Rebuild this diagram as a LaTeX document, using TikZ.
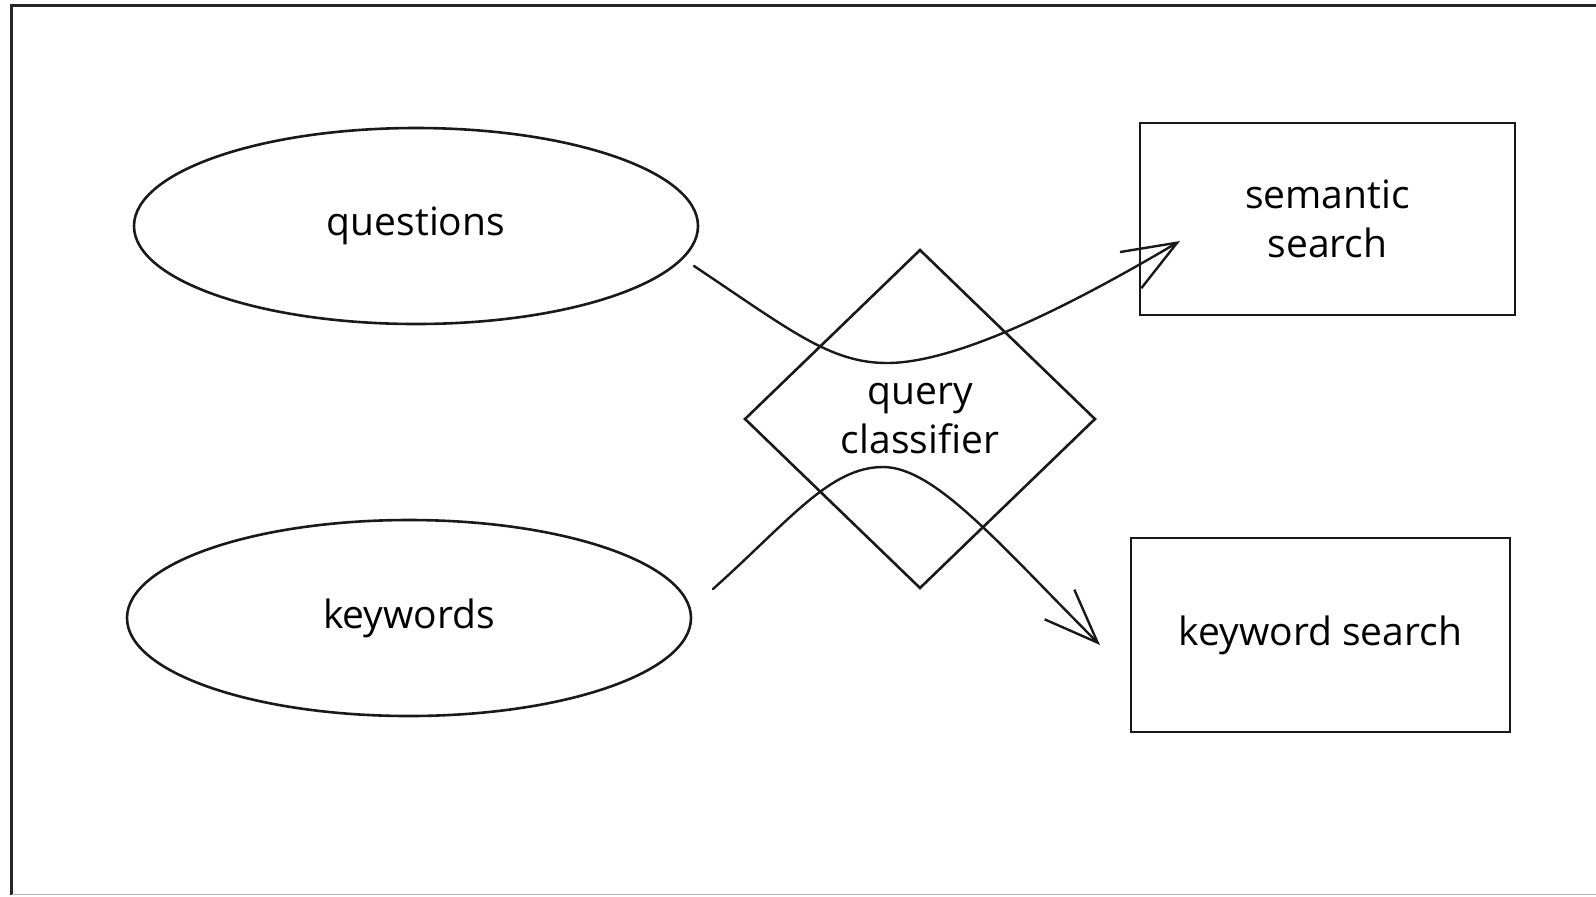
\documentclass[tikz,border=0pt]{standalone}
\usepackage{fontspec}
\setmainfont{Open Sans}
\usetikzlibrary{shapes.geometric,arrows.meta}
\begin{document}
\begin{tikzpicture}[x=0.5pt,y=-0.5pt,
  ink/.style={draw=black!90, line width=1.3pt},
  lbl/.style={font=\fontsize{19.5}{24.5}\selectfont, text=black, align=center},
  blob/.style={ellipse, ink, lbl, inner sep=0pt, minimum width=282pt, minimum height=98pt},
  decision/.style={diamond, ink, lbl, inner sep=0pt, minimum width=175.5pt, minimum height=169.5pt},
  box/.style={rectangle, ink, lbl, inner sep=0pt},
  flow/.style={draw=black!90, line width=1.2pt, line join=round, line cap=round,
    -{Straight Barb[length=27pt, width=21pt, line width=1.2pt]}},
  frameline/.style={draw=black!85, line width=1.5pt}
]
\useasboundingbox (0,0) rectangle (1596,896);
% frame
\draw[frameline] (1600,5) -- (11.5,5) -- (11.5,895);
\draw[draw=black!30, line width=0.8pt] (11.5,894.5) -- (1600,894.5);

% nodes
\node[blob] (q) at (416,226) {questions};
\node[blob] (k) at (409,618) {keywords};
\node[decision] (c) at (920,419) {query\\classifier};
\node[box, minimum width=187.5pt, minimum height=96pt] (s) at (1327.5,219) {semantic\\search};
\node[box, minimum width=189.5pt, minimum height=97pt] (ks) at (1320.5,635) {keyword search};

% connector end points
\coordinate (s1) at (694,266);
\coordinate (m1) at (887,363);
\coordinate (t1) at (1180,241);
\coordinate (s2) at (713,589);
\coordinate (m2) at (883,467);
\coordinate (t2) at (1100,645);

\draw[flow] (s1) .. controls (790,330) and (830,363) .. (m1)
            .. controls (960,363) and (1080,300) .. (t1);
\draw[flow] (s2) .. controls (790,520) and (830,467) .. (m2)
            .. controls (935,467) and (1000,545) .. (t2);
\end{tikzpicture}
\end{document}
